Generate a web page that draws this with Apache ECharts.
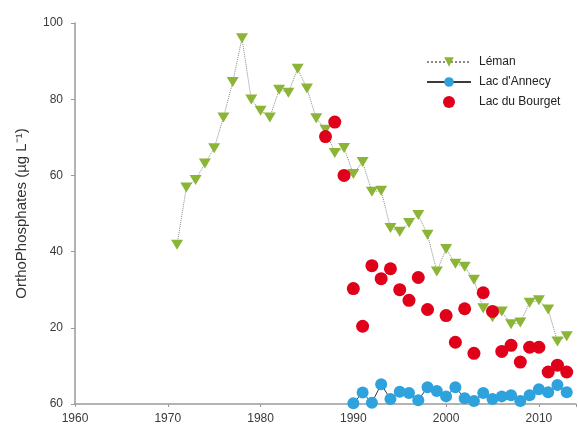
<!DOCTYPE html>
<html>
<head>
<meta charset="utf-8">
<script src="https://cdn.jsdelivr.net/npm/echarts@6/dist/echarts.min.js"></script>
<style>
html,body{margin:0;padding:0;background:#fff;}
#chart{width:579px;height:430px;}
</style>
</head>
<body>
<div id="chart"></div>
<script>
// Data
var lemanYears = [1971,1972,1973,1974,1975,1976,1977,1978,1979,1980,1981,1982,1983,1984,1985,1986,1987,1988,1989,1990,1991,1992,1993,1994,1995,1996,1997,1998,1999,2000,2001,2002,2003,2004,2005,2006,2007,2008,2009,2010,2011,2012,2013];
var lemanValues = [41.8,56.8,58.8,63.1,67.1,75.2,84.5,96,79.9,77,75.2,82.5,81.7,88,82.8,75,72,65.9,67.2,60.4,63.5,55.7,56,46.2,45.2,47.5,49.6,44.4,34.8,40.7,36.8,36,32.6,25.1,22.8,24.3,20.9,21.4,26.6,27.2,24.8,16.4,17.8];

var anneYears = [1990,1991,1992,1993,1994,1995,1996,1997,1998,1999,2000,2001,2002,2003,2004,2005,2006,2007,2008,2009,2010,2011,2012,2013];
var anneValues = [0.2,3,0.3,5.2,1.3,3.2,2.9,1,4.4,3.4,2,4.4,1.5,0.8,2.9,1.3,2,2.3,0.8,2.3,3.9,3.1,5,3.1];

var bourYears = [1987,1988,1989,1990,1991,1992,1993,1994,1995,1996,1997,1998,2000,2001,2002,2003,2004,2005,2006,2007,2008,2009,2010,2011,2012,2013];
var bourValues = [70.2,74,60,30.3,20.4,36.3,32.9,35.5,30,27.2,33.2,24.8,23.2,16.2,25,13.3,29.2,24.3,13.8,15.4,11,14.9,14.9,8.4,10.2,8.4];

var xTickLabels = ['1960','1970','1980','1990','2000','2010'];
var yTickValues = [0,20,40,60,80,100];
var yTickLabels = ['60','20','40','60','80','100'];

var seriesNames = ['Léman', "Lac d'Annecy", 'Lac du Bourget'];

function pairs(xs, ys){ return xs.map(function(x,i){ return [x, ys[i]]; }); }

var chart = echarts.init(document.getElementById('chart'), null, {renderer:'canvas'});
var font = 'Liberation Sans, Arial, sans-serif';
chart.setOption({
  animation: false,
  backgroundColor: '#fff',
  grid: {left: 75, right: 2, top: 23, bottom: 26, containLabel: false},
  legend: {
    orient: 'vertical',
    left: 421,
    top: 51,
    itemWidth: 44,
    itemHeight: 12,
    itemGap: 8,
    data: seriesNames,
    textStyle: {fontFamily: font, fontSize: 12, color: '#222', padding: [0,0,0,3]}
  },
  xAxis: {
    type: 'value',
    min: 1960,
    max: 2014,
    interval: 10,
    axisLine: {show: true, lineStyle: {color: '#9a9a9a', width: 1.5}},
    axisTick: {show: true, length: 3, lineStyle: {color: '#9a9a9a'}},
    splitLine: {show: false},
    axisLabel: {
      margin: 9, fontFamily: font, fontSize: 12, color: '#3a3a3a',
      formatter: function(v){ var i = Math.round((v-1960)/10); return xTickLabels[i] !== undefined && (v-1960)%10===0 ? xTickLabels[i] : ''; }
    }
  },
  yAxis: {
    type: 'value',
    min: 0,
    max: 100,
    interval: 20,
    name: 'OrthoPhosphates (µg L⁻¹)',
    nameLocation: 'middle',
    nameGap: 46,
    nameTextStyle: {fontFamily: font, fontSize: 15, color: '#333'},
    axisLine: {show: true, lineStyle: {color: '#9a9a9a', width: 1.5}},
    axisTick: {show: true, length: 4, lineStyle: {color: '#9a9a9a'}},
    splitLine: {show: false},
    axisLabel: {
      margin: 12, fontFamily: font, fontSize: 12, color: '#3a3a3a',
      formatter: function(v){ var i = yTickValues.indexOf(v); return i >= 0 ? yTickLabels[i] : ''; }
    }
  },
  series: [
    {
      name: seriesNames[0],
      type: 'line',
      data: pairs(lemanYears, lemanValues),
      symbol: 'triangle',
      symbolRotate: 180,
      symbolSize: [12, 10],
      itemStyle: {color: '#8bb536'},
      lineStyle: {color: '#8a8a8a', width: 1, type: 'dotted'},
      z: 3
    },
    {
      name: seriesNames[1],
      type: 'line',
      data: pairs(anneYears, anneValues),
      symbol: 'circle',
      symbolSize: 12,
      itemStyle: {color: '#2ea2dc', opacity: 1},
      lineStyle: {color: '#3a3a3a', width: 1},
      z: 2
    },
    {
      name: seriesNames[2],
      type: 'scatter',
      data: pairs(bourYears, bourValues),
      symbol: 'circle',
      symbolSize: 13,
      itemStyle: {color: '#e0001a', opacity: 1},
      z: 4
    }
  ]
});
</script>
</body>
</html>
